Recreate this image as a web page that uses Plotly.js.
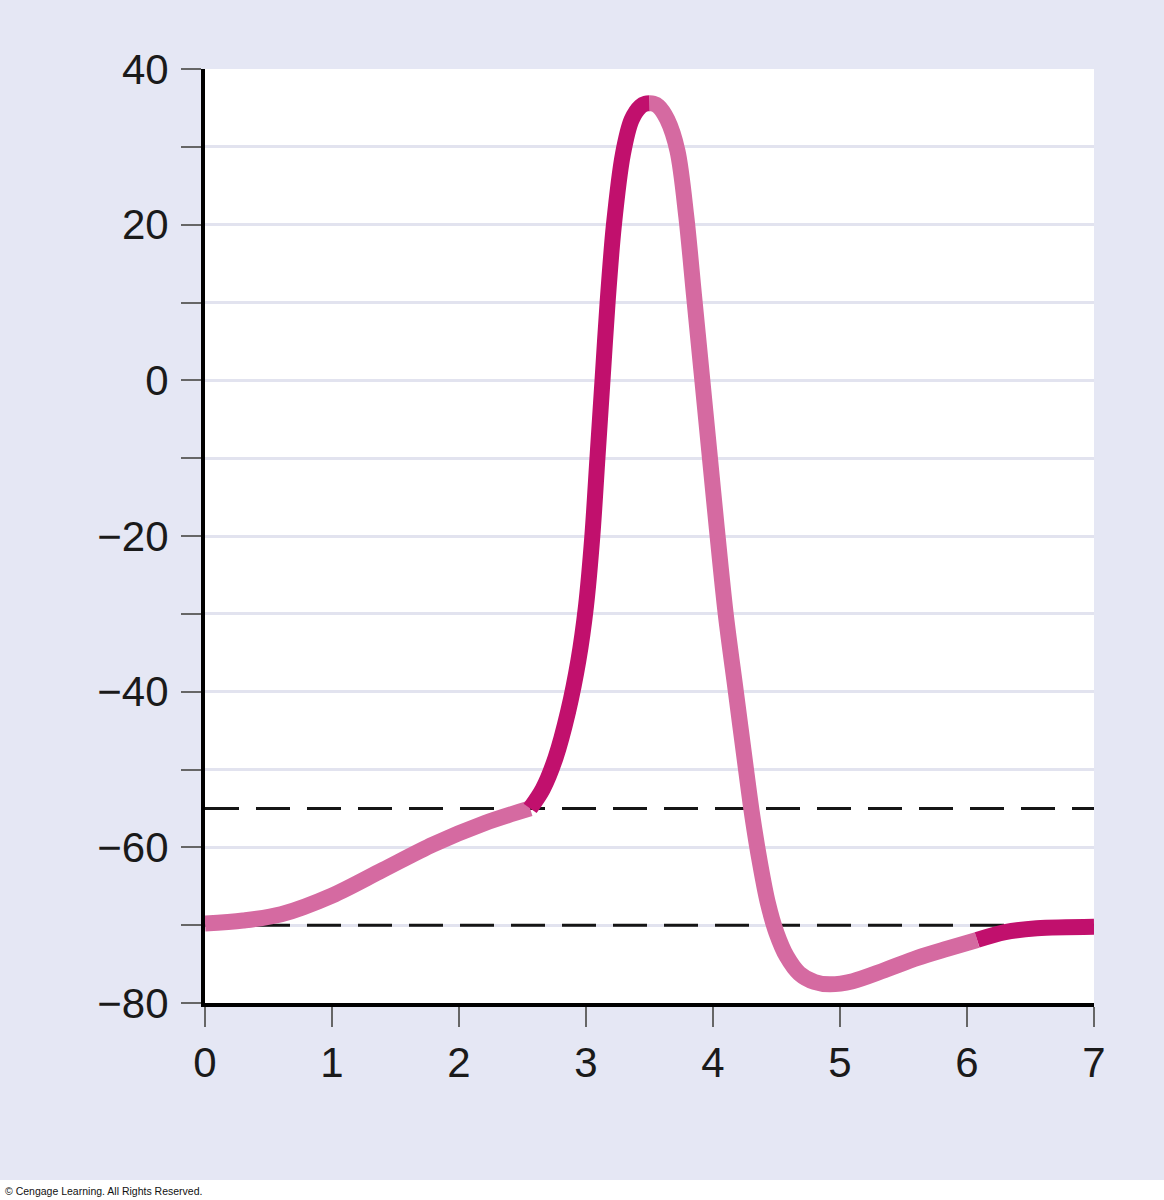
<!DOCTYPE html>
<html>
<head>
<meta charset="utf-8">
<script src="https://cdn.plot.ly/plotly-3.0.1.min.js"></script>
<style>html,body{margin:0;padding:0;background:#fff;}</style>
</head>
<body>
<div id="chart" style="width:1164px;height:1200px;"></div>
<script>
// Membrane potential trace (time units on x, mV on y)
const riseX = [0, 0.3, 0.6, 1.0, 1.4, 1.8, 2.2, 2.56];
const riseY = [-69.8, -69.4, -68.6, -66.2, -62.9, -59.6, -56.9, -55.0];

const depolX = [2.56, 2.66, 2.76, 2.86, 2.94, 3.00, 3.05, 3.09, 3.13, 3.17, 3.22, 3.29, 3.36, 3.43, 3.47, 3.50];
const depolY = [-55.0, -52.5, -48.5, -42.5, -36.0, -29.0, -20.0, -10.0, 0.0, 10.0, 20.0, 29.0, 33.5, 35.2, 35.55, 35.6];

const repolX = [3.50, 3.53, 3.57, 3.64, 3.72, 3.79, 3.85, 3.91, 3.97, 4.03, 4.10, 4.18, 4.26, 4.31, 4.37, 4.43, 4.50, 4.58, 4.68, 4.80, 4.92, 5.10, 5.35, 5.61, 5.85, 6.08];
const repolY = [35.6, 35.55, 35.2, 33.5, 29.5, 21.0, 11.0, 1.0, -9.0, -19.0, -30.0, -40.0, -50.0, -56.0, -62.0, -67.0, -71.0, -74.0, -76.2, -77.3, -77.6, -77.2, -75.8, -74.2, -73.0, -71.9];

const restX = [6.08, 6.3, 6.55, 7.0];
const restY = [-71.9, -70.9, -70.4, -70.2];

const thresholdX = [0, 7];
const thresholdY = [-55, -55];
const restingX = [0, 7];
const restingY = [-70, -70];

const yTickVals = [-80, -60, -40, -20, 0, 20, 40];
const yTickText = ["\u221280", "\u221260", "\u221240", "\u221220", "0", "20", "40"];
const xTickVals = [0, 1, 2, 3, 4, 5, 6, 7];
const xTickText = ["0", "1", "2", "3", "4", "5", "6", "7"];

const credit = "\u00a9 Cengage Learning. All Rights Reserved.";

const LIGHT = "#d56aa1";
const DARK = "#c1106d";
const LW = 16;

const dashStyle = {color: "#151515", width: 3, dash: "34px,17px"};

const traces = [
  {x: thresholdX, y: thresholdY, mode: "lines", line: dashStyle, hoverinfo: "skip"},
  {x: restingX, y: restingY, mode: "lines", line: dashStyle, hoverinfo: "skip"},
  {x: riseX, y: riseY, mode: "lines", line: {color: LIGHT, width: LW, shape: "spline", smoothing: 0.9}},
  {x: repolX, y: repolY, mode: "lines", line: {color: LIGHT, width: LW, shape: "spline", smoothing: 0.9}},
  {x: depolX, y: depolY, mode: "lines", line: {color: DARK, width: LW, shape: "spline", smoothing: 0.9}},
  {x: restX, y: restY, mode: "lines", line: {color: DARK, width: LW, shape: "spline", smoothing: 0.9}}
];

const layout = {
  width: 1164,
  height: 1200,
  margin: {l: 205, r: 70, t: 69, b: 197, pad: 0},
  paper_bgcolor: "#e5e7f4",
  plot_bgcolor: "#ffffff",
  showlegend: false,
  font: {family: "Liberation Sans, Arial, sans-serif", color: "#1a1a1a"},
  xaxis: {
    range: [0, 7],
    tickvals: xTickVals,
    ticktext: xTickText,
    ticks: "outside",
    ticklen: 20,
    tickwidth: 2,
    tickcolor: "#666666",
    tickfont: {size: 42, color: "#1a1a1a"},
    ticklabelstandoff: 0,
    showgrid: false,
    zeroline: false,
    showline: true,
    linecolor: "#000000",
    linewidth: 4,
    fixedrange: true
  },
  yaxis: {
    range: [-80, 40],
    tickvals: yTickVals,
    ticktext: yTickText,
    ticks: "outside",
    ticklen: 20,
    tickwidth: 2,
    tickcolor: "#666666",
    tickfont: {size: 42, color: "#1a1a1a"},
    ticklabelstandoff: 4,
    showgrid: true,
    gridcolor: "#e2e3ef",
    gridwidth: 3,
    minor: {dtick: 10, tick0: 0, ticks: "outside", ticklen: 20, tickwidth: 2, tickcolor: "#666666", showgrid: true, gridcolor: "#e2e3ef", gridwidth: 3},
    zeroline: false,
    showline: true,
    linecolor: "#000000",
    linewidth: 4,
    fixedrange: true
  },
  shapes: [
    {type: "rect", xref: "paper", yref: "paper", x0: -0.235, x1: 1.085, y0: -0.1895, y1: -0.215,
     fillcolor: "#ffffff", line: {width: 0}, layer: "below"}
  ],
  annotations: [
    {text: credit, xref: "paper", yref: "paper", x: -0.227, y: -0.2013, xanchor: "left", yanchor: "middle",
     showarrow: false, font: {size: 10.5, color: "#111111", family: "Liberation Sans, Arial, sans-serif"}}
  ]
};

Plotly.newPlot("chart", traces, layout, {displayModeBar: false, staticPlot: true});
</script>
</body>
</html>
